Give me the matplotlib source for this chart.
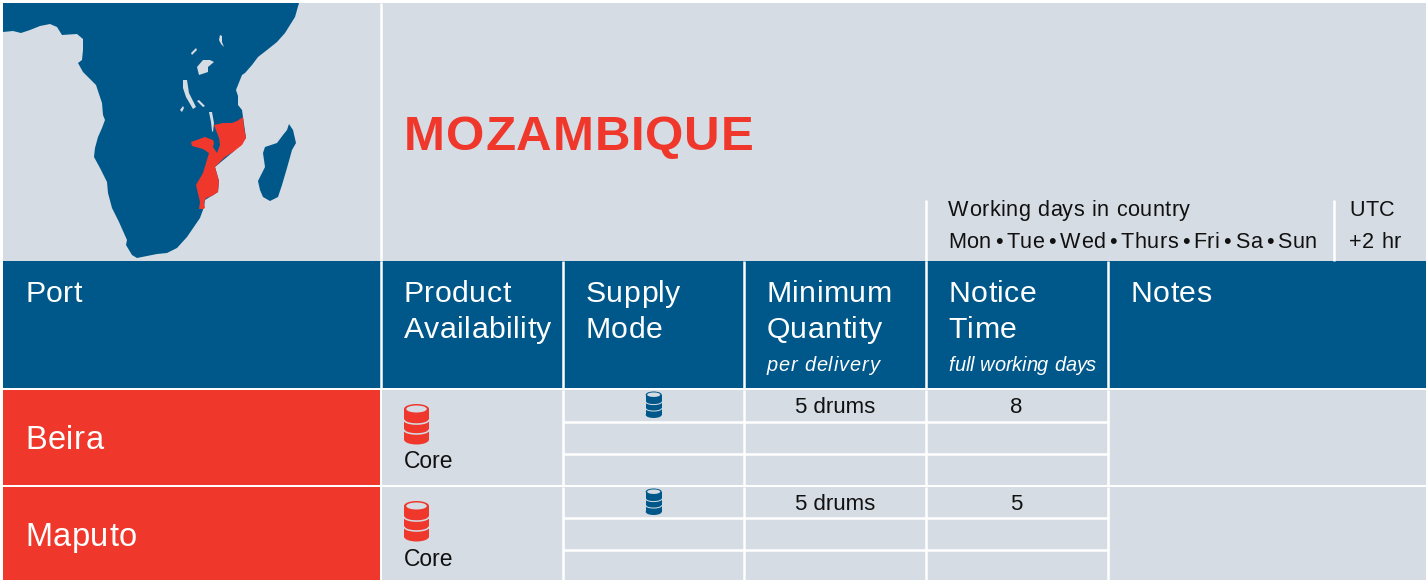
import matplotlib
matplotlib.use("Agg")
import matplotlib.pyplot as plt
import numpy as np
from matplotlib import font_manager
from matplotlib.ft2font import LoadFlags
from matplotlib.patches import Polygon, Rectangle, Ellipse
from matplotlib.text import Text

plt.rcParams['font.family'] = ['Liberation Sans', 'DejaVu Sans']

BLUE = '#00578A'
RED = '#EF372C'
GREY = '#D5DCE3'
INK = '#111111'

# table content
title = "MOZAMBIQUE"
ports = ["Beira", "Maputo"]
availability = ["Core", "Core"]
quantity = ["5 drums", "5 drums"]
notice = ["8", "5"]
headers = [["Port"], ["Product", "Availability"], ["Supply", "Mode"], ["Minimum", "Quantity"], ["Notice", "Time"], ["Notes"]]
header_subs = ["", "", "", "per delivery", "full working days", ""]
days_title = "Working days in country"
days = ["Mon", "Tue", "Wed", "Thurs", "Fri", "Sa", "Sun"]
utc = ["UTC", "+2 hr"]

# table grid (picture pixels)
col_edges = [3, 381, 563, 744, 926, 1108, 1426]
port_rows = [(390, 485), (487, 580)]
sub_lines = [[421.5, 453.5], [517.5, 549.5]]

# map outlines in picture pixels
africa = [(3,32),(13,31),(21,33),(30,30),(40,26),(50,24),(57,27),(62,35),(77,34),(83,39),(83,50),(82,60),
          (78,63),(83,72),(96,85),(102,103),(103,115),(105,120),(102,128),(98,137),(95,148),(94,157),
          (100,168),(107,182),(108,193),(112,208),(119,222),(127,240),(126,245),(132,255),(137,258),
          (147,256),(157,254),(167,253),(177,248),(187,237),(200,218),(204,207),(205,200),(218,192),
          (219,181),(215,167),(233,152),(246,138),(243,117),(242,110),(238,105),(238,96),(236,90),
          (238,85),(242,75),(245,73),(252,65),(258,57),(267,50),(277,42),(285,33),(290,25),(295,17),
          (299,3),(3,3)]
madagascar = [(289,124),(293,130),(296,143),(292,150),(287,168),(282,185),(278,197),(270,201),(263,197),
              (260,190),(258,181),(265,167),(263,153),(265,147),(277,143),(283,135),(287,130)]
mozambique = [(243,117),(244,127),(246,138),(242,145),(233,152),(225,157),(219,163),(215,167),(219,181),
              (218,192),(212,196),(206,198),(204,203),(205,208),(203,209),(199,209),(200,202),(196,185),
              (203,173),(206,163),(209,153),(203,149),(192,146),(191,142),(205,137),(213,140),(214,143),
              (213,147),(217,153),(220,145),(219,138),(214,125),(223,123),(232,123),(237,121)]
lakes = [[(203,60),(210,60),(214,62),(208,67),(208,72),(199,75),(197,67)],
         [(220,35),(222,36),(222,42),(224,47),(221,44),(219,40)],
         [(191,53),(196,48),(197,50),(192,55)],
         [(183,80),(187,80),(189,93),(196,107),(193,109),(186,97),(183,88)],
         [(197,101),(199,100),(205,106),(203,107)],
         [(180,110),(183,106),(184,108),(182,112)],
         [(209,112),(212,112),(214,123),(213,132),(212,131),(211,122)]]


class TrackedText(Text):
    # one string, drawn with extra letter spacing (pixels)
    def __init__(self, x, y, text, tracking=0.0, word_px=None, **kwargs):
        super().__init__(x, y, text, **kwargs)
        self.tracking = tracking
        self.word_px = word_px

    def draw(self, renderer):
        whole, x0 = self.get_text(), self.get_position()[0]
        font = font_manager.get_font(font_manager.findfont(self.get_fontproperties()))
        font.set_size(self.get_fontsize(), 100)
        x = x0
        for ch in whole:
            self.set_text(ch)
            self.set_x(x)
            super().draw(renderer)
            adv = font.load_char(ord(ch), flags=LoadFlags.NO_HINTING).linearHoriAdvance / 65536
            if ch == ' ' and self.word_px is not None:
                adv = self.word_px
            x += adv + self.tracking
        self.set_text(whole)
        self.set_x(x0)
        self.stale = False


def label(ax, x, y, s, tracking=0.0, word_px=None, **kwargs):
    ax.add_artist(TrackedText(x, y, s, tracking=tracking, word_px=word_px, va='baseline', **kwargs))


def drum(ax, x0, y0, w, h, color):
    cap = w * 0.4
    cx = x0 + w / 2
    ax.add_patch(Rectangle((x0, y0 + cap / 2), w, h - cap, fc=color, ec='none'))
    ax.add_patch(Ellipse((cx, y0 + h - cap / 2), w, cap, fc=color, ec='none'))
    ax.add_patch(Ellipse((cx, y0 + cap / 2), w, cap, fc=color, ec='none'))
    ax.add_patch(Ellipse((cx, y0 + cap / 2), w * 0.82, w * 0.28, fc=GREY, ec='none'))
    xs = np.linspace(x0, x0 + w, 30)
    sag = np.sqrt(np.clip(1 - ((xs - cx) / (w / 2)) ** 2, 0, 1))
    for frac in (0.39, 0.635):
        ax.plot(xs, y0 + h * frac + w * 0.17 * sag, color=GREY, lw=w * 0.045, solid_capstyle='butt')


def white_line(ax, xs, ys):
    ax.plot(xs, ys, color='white', lw=1.8, solid_capstyle='butt')


fig = plt.figure(figsize=(14.26, 5.8), dpi=100)
ax = fig.add_axes([0, 0, 1, 1])
ax.set_xlim(0, 1426)
ax.set_ylim(580, 0)
ax.axis('off')

# top panel and map
ax.add_patch(Rectangle((3, 3), 1423, 258, fc=GREY, ec='none'))
ax.add_patch(Polygon(africa, fc=BLUE, ec='none'))
ax.add_patch(Polygon(madagascar, fc=BLUE, ec='none'))
for lake in lakes:
    ax.add_patch(Polygon(lake, fc=GREY, ec='none'))
ax.add_patch(Polygon(mozambique, fc=RED, ec='none'))
white_line(ax, [381, 381], [3, 261])

label(ax, 404, 150, title, tracking=0.85, color=RED, fontsize=35.5, fontweight='bold')

# working days strip
white_line(ax, [926, 926], [200, 261])
white_line(ax, [1334, 1334], [200, 261])
label(ax, 948, 216, days_title, tracking=0.5, color=INK, fontsize=15.6)
label(ax, 948, 248, " \u2022 ".join(days), tracking=0.4, word_px=3.2, color=INK, fontsize=15.6)
label(ax, 1349, 216, utc[0], tracking=0.5, color=INK, fontsize=15.6)
label(ax, 1349, 248, utc[1], tracking=0.5, color=INK, fontsize=15.6)

# header row
ax.add_patch(Rectangle((3, 261), 1423, 127, fc=BLUE, ec='none'))
sub_tracking = [0, 0, 0, 0.8, 0, 0]
for i, lines in enumerate(headers):
    for j, line in enumerate(lines):
        label(ax, col_edges[i] + 22.5, 302 + 36 * j, line, tracking=0.45, color='white', fontsize=21.8)
    if header_subs[i]:
        label(ax, col_edges[i] + 22.5, 371, header_subs[i], tracking=sub_tracking[i], color='white',
              fontsize=14.4, style='italic')
for x in col_edges[1:6]:
    white_line(ax, [x, x], [261, 388])

# port rows
for r, (top, bottom) in enumerate(port_rows):
    ax.add_patch(Rectangle((3, top), 377, bottom - top, fc=RED, ec='none'))
    ax.add_patch(Rectangle((382, top), 1426 - 382, bottom - top, fc=GREY, ec='none'))
    label(ax, 25, top + 59, ports[r], tracking=0.6, color='white', fontsize=23.5)
    ax.text(404, top + 78.5, availability[r], color=INK, fontsize=16.5, va='baseline')
    drum(ax, 404, top + 14, 25, 40.5, RED)
    for x in col_edges[2:6]:
        white_line(ax, [x, x], [top, bottom])
    for y in sub_lines[r]:
        white_line(ax, [563, 1109], [y, y])
    drum(ax, 645.7, top + 1.5, 16, 26.5, BLUE)
    ax.text(835, top + 23, quantity[r], color=INK, fontsize=16, ha='center', va='baseline')
    ax.text(1016, top + 23, notice[r], color=INK, fontsize=16, ha='center', va='baseline')

fig.savefig('out.png', dpi=100, facecolor='white')
